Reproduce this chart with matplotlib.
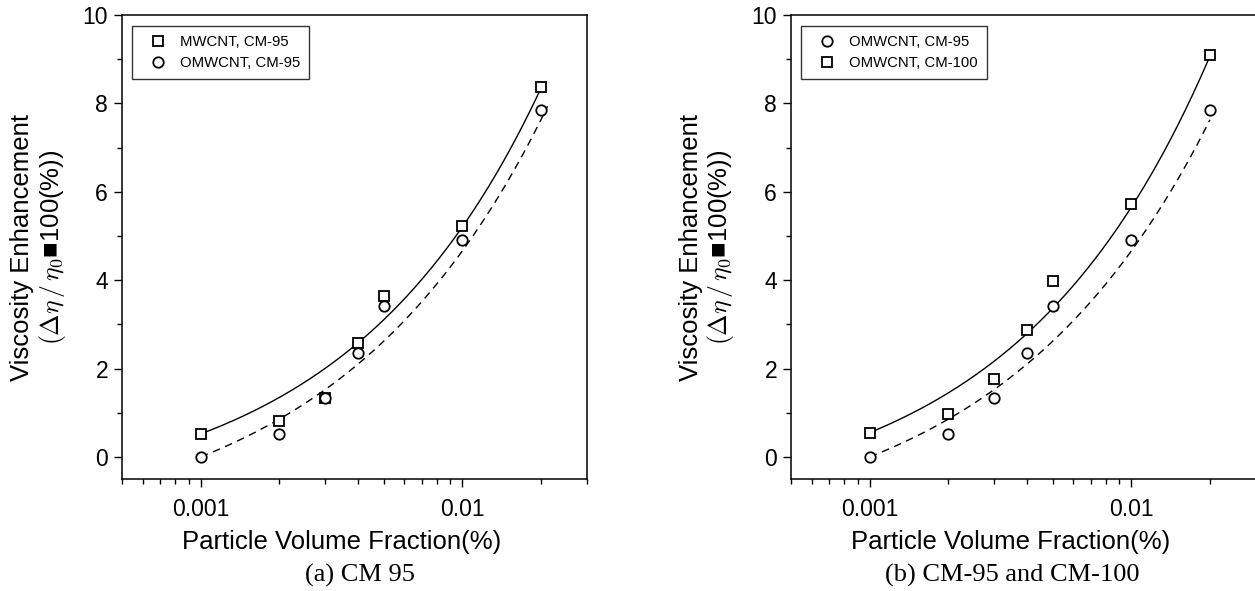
import numpy as np
import matplotlib
matplotlib.use("Agg")
import matplotlib.pyplot as plt
from matplotlib.ticker import FixedLocator, NullFormatter, FixedFormatter, LogLocator

# ---- data ----
phi = [0.001, 0.002, 0.003, 0.004, 0.005, 0.01, 0.02]
mwcnt_cm95 = [0.52, 0.82, 1.34, 2.57, 3.65, 5.23, 8.37]
omwcnt_cm95 = [0.00, 0.52, 1.33, 2.36, 3.42, 4.90, 7.84]
omwcnt_cm100 = [0.54, 0.97, 1.76, 2.87, 3.99, 5.73, 9.10]

# fitted curves y = y0 + A * phi**c (coefficients)
fit_mwcnt_cm95 = (-1.150, 91.8, 0.58)
fit_omwcnt_cm95 = (-1.888, 78.7, 0.54)
fit_omwcnt_cm100 = (-1.270, 100.0, 0.58)
fit_range_left = [(0.001, 0.02), (0.001, 0.0212)]
fit_range_right = [(0.001, 0.02), (0.001, 0.02)]

x_ticks = [0.001, 0.01]
x_ticklabels = ["0.001", "0.01"]
y_ticks = [0, 2, 4, 6, 8, 10]

captions = ["(a) CM 95", "(b) CM-95 and CM-100"]

plt.rcParams['font.family'] = ['Liberation Sans', 'DejaVu Sans']
plt.rcParams['mathtext.fontset'] = 'cm'


def fit_curve(params, xs):
    y0, A, c = params
    return y0 + A * np.asarray(xs) ** c


W, H = 1255, 591
fig = plt.figure(figsize=(W / 100, H / 100), dpi=100)

ax_l = 122 / W
ax_r = 791 / W
ax_w = 465 / W
ax_b = 1 - 479 / H
ax_h = (479 - 15) / H

dash = (0, (5.5, 4))
panels = [
    (ax_l, [("MWCNT, CM-95", mwcnt_cm95, fit_mwcnt_cm95, 's', '-', fit_range_left[0]),
            ("OMWCNT, CM-95", omwcnt_cm95, fit_omwcnt_cm95, 'o', dash, fit_range_left[1])]),
    (ax_r, [("OMWCNT, CM-95", omwcnt_cm95, fit_omwcnt_cm95, 'o', dash, fit_range_right[0]),
            ("OMWCNT, CM-100", omwcnt_cm100, fit_omwcnt_cm100, 's', '-', fit_range_right[1])]),
]
caption_x = [360, 1012]

for i, (left, series) in enumerate(panels):
    ax = fig.add_axes([left, ax_b, ax_w, ax_h])
    ax.set_xscale('log')
    ax.set_xlim(0.0005, 0.03)
    ax.set_ylim(-0.5, 10)
    handles = []
    for label, ys, fp, mk, ls, (xa, xb) in series:
        xs = np.geomspace(xa, xb, 300)
        ax.plot(xs, fit_curve(fp, xs), color='black', lw=1.0, ls=ls, zorder=2)
        h, = ax.plot(phi, ys, ls='none', marker=mk, mfc='white', mec='black',
                     mew=1.3, ms=7.5 if mk == 'o' else 7.0, zorder=3, label=label)
        handles.append(h)

    ax.xaxis.set_major_locator(FixedLocator(x_ticks))
    ax.xaxis.set_major_formatter(FixedFormatter(x_ticklabels))
    ax.xaxis.set_minor_locator(LogLocator(base=10, subs=np.arange(2, 10)))
    ax.xaxis.set_minor_formatter(NullFormatter())
    ax.yaxis.set_major_locator(FixedLocator(y_ticks))
    ax.yaxis.set_minor_locator(FixedLocator([1, 3, 5, 7, 9]))
    ax.tick_params(which='major', direction='out', length=6, width=1.0, labelsize=16.5)
    ax.tick_params(axis='x', which='major', pad=8)
    ax.tick_params(axis='y', which='major', pad=4)
    ax.tick_params(which='minor', direction='out', length=3.5, width=1.0)
    for s in ax.spines.values():
        s.set_linewidth(1.1)

    ax.set_xlabel("Particle Volume Fraction(%)", fontsize=18.5, labelpad=6)
    ax.xaxis.label.set_x(0.473)

    leg = ax.legend(handles=handles, loc='upper left',
                    bbox_to_anchor=(10 / 465, 1 - 11 / 464), borderaxespad=0,
                    fontsize=10.7, frameon=True, fancybox=False, edgecolor='black',
                    handlelength=2.3, handletextpad=0.35, labelspacing=0.5,
                    borderpad=0.6)
    leg.get_frame().set_linewidth(1.0)

    left_px = left * W
    fig.text((left_px - 100) / W, (ax_b + ax_h / 2), "Viscosity Enhancement",
             rotation=90, ha='center', va='center', fontsize=18.5)
    fig.text((left_px - 70) / W, (ax_b + ax_h / 2),
             r"$(\Delta\eta\,/\,\eta_0$" + "\u25A0100(%))",
             rotation=90, ha='center', va='center', fontsize=18.5)

    fig.text(caption_x[i] / W, 1 - 575 / H, captions[i],
             ha='center', va='center', fontsize=19, family='Liberation Serif')

fig.savefig("out.png", dpi=100)
